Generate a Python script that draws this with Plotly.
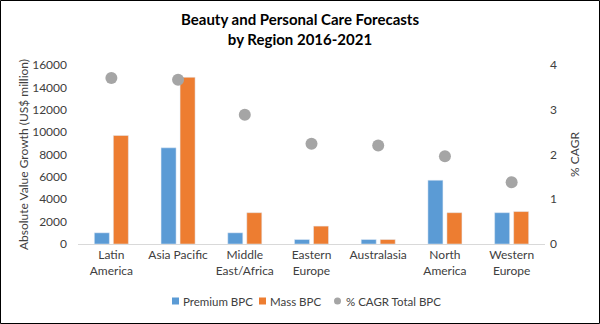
import plotly.graph_objects as go

regions = ["Latin<br>America", "Asia Pacific", "Middle<br>East/Africa", "Eastern<br>Europe",
           "Australasia", "North<br>America", "Western<br>Europe"]
premium = [1000, 8600, 1000, 400, 400, 5700, 2800]
mass = [9700, 14900, 2800, 1600, 400, 2800, 2900]
cagr = [3.71, 3.67, 2.89, 2.24, 2.20, 1.96, 1.38]
series_names = ["Premium BPC", "Mass BPC", "% CAGR Total BPC"]
colors = ["#5B9BD5", "#ED7D31", "#A5A5A5"]

FONT = "Lato"
W, H = 600, 324
ml, mr, mt, mb = 78, 55, 65, 80

fig = go.Figure()
fig.add_trace(go.Bar(x=regions, y=premium, name=series_names[0], marker_color=colors[0]))
fig.add_trace(go.Bar(x=regions, y=mass, name=series_names[1], marker_color=colors[1]))
fig.add_trace(go.Scatter(x=regions, y=cagr, name=series_names[2], mode="markers",
                         yaxis="y2", marker=dict(color=colors[2], size=12)))

pw = W - ml - mr
ph = H - mt - mb


def px(x):
    return (x - ml) / pw


def py(y):
    return (H - mb - y) / ph


# outer border
fig.add_shape(type="rect", xref="paper", yref="paper",
              x0=px(0.5), x1=px(W - 0.5), y0=py(H - 0.5), y1=py(0.5),
              line=dict(color="#000000", width=1))

# title
fig.add_annotation(text="<b>Beauty and Personal Care Forecasts<br>by Region 2016-2021</b>",
                   xref="paper", yref="paper", x=px(300), y=py(8),
                   xanchor="center", yanchor="top", showarrow=False,
                   font=dict(family=FONT, size=15, color="#000000"))

# custom compact legend
ly = 301
leg_marks = [172, 259, 334]
leg_texts = [181, 268, 344]
for i in range(3):
    if i < 2:
        fig.add_shape(type="rect", xref="paper", yref="paper",
                      x0=px(leg_marks[i]), x1=px(leg_marks[i] + 7),
                      y0=py(ly + 3.5), y1=py(ly - 3.5),
                      fillcolor=colors[i], line=dict(width=0))
    else:
        fig.add_shape(type="circle", xref="paper", yref="paper",
                      x0=px(leg_marks[i]), x1=px(leg_marks[i] + 7),
                      y0=py(ly + 3.5), y1=py(ly - 3.5),
                      fillcolor=colors[i], line=dict(width=0))
    fig.add_annotation(text=series_names[i], xref="paper", yref="paper",
                       x=px(leg_texts[i]), y=py(ly), xanchor="left", yanchor="middle",
                       showarrow=False, font=dict(family=FONT, size=11.5, color="#404040"))

fig.update_layout(
    width=W, height=H,
    margin=dict(l=ml, r=mr, t=mt, b=mb, autoexpand=False),
    paper_bgcolor="white", plot_bgcolor="white",
    font=dict(family=FONT, size=12, color="#404040"),
    showlegend=False,
    barmode="group", bargap=0.43, bargroupgap=0.21,
    xaxis=dict(showline=True, linecolor="#D9D9D9", linewidth=1, ticks="", automargin=False,
               tickfont=dict(size=12, color="#404040"), showgrid=False),
    yaxis=dict(range=[0, 16000], dtick=2000, tickformat="d", showgrid=False, zeroline=False,
               automargin=False, ticklabelstandoff=10,
               title=dict(text="Absolute Value Growth (US$ million)", font=dict(size=12, color="#404040"),
                          standoff=0),
               tickfont=dict(size=12, color="#404040")),
    yaxis2=dict(range=[0, 4], dtick=1, overlaying="y", side="right", showgrid=False,
                zeroline=False, automargin=False, ticklabelstandoff=4,
                title=dict(text="% CAGR", font=dict(size=12, color="#404040"), standoff=14),
                tickfont=dict(size=12, color="#404040")),
)

fig.write_html("out.html")
